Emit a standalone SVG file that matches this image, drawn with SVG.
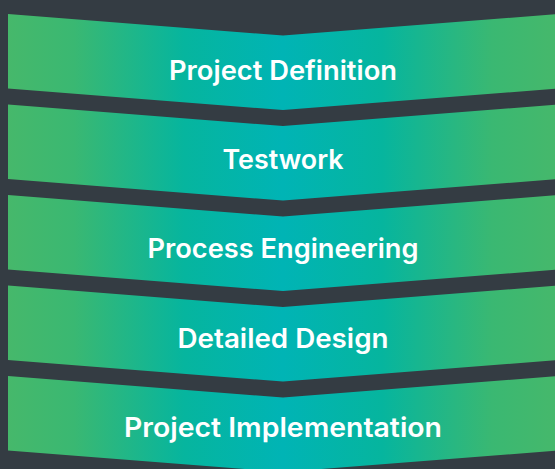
<svg xmlns="http://www.w3.org/2000/svg" width="555" height="469" viewBox="0 0 555 469">
  <defs>
    <linearGradient id="band" x1="8" y1="0" x2="558" y2="0" gradientUnits="userSpaceOnUse">
      <stop offset="0" stop-color="#46b86b"/>
      <stop offset="0.12" stop-color="#3ab872"/>
      <stop offset="0.32" stop-color="#06b59e"/>
      <stop offset="0.5" stop-color="#00b4b5"/>
      <stop offset="0.68" stop-color="#06b59e"/>
      <stop offset="0.88" stop-color="#3ab872"/>
      <stop offset="1" stop-color="#46b86b"/>
    </linearGradient>
    <style>
      .band { fill: url(#band); }
      .label { font-family: Inter, "Open Sans", sans-serif; font-weight: 600; font-size: 27px; fill: #ffffff; text-anchor: middle; }
    </style>
  </defs>
  <rect x="0" y="0" width="555" height="469" fill="#343c43"/>
  <g id="connectors"></g>
  <g id="step1">
    <path class="band" d="M8,14 L283,35.5 L558,14 L558,88.5 L283,110 L8,88.5 Z"/>
    <text class="label" x="283" y="80" textLength="228" lengthAdjust="spacingAndGlyphs">Project Definition</text>
  </g>
  <g id="step2">
    <path class="band" d="M8,104.5 L283,126 L558,104.5 L558,179 L283,200.5 L8,179 Z"/>
    <text class="label" x="283" y="169" textLength="121" lengthAdjust="spacingAndGlyphs">Testwork</text>
  </g>
  <g id="step3">
    <path class="band" d="M8,195 L283,216.5 L558,195 L558,269.5 L283,291 L8,269.5 Z"/>
    <text class="label" x="283" y="258" textLength="271" lengthAdjust="spacingAndGlyphs">Process Engineering</text>
  </g>
  <g id="step4">
    <path class="band" d="M8,285.5 L283,307 L558,285.5 L558,360 L283,381.5 L8,360 Z"/>
    <text class="label" x="283" y="348" textLength="211" lengthAdjust="spacingAndGlyphs">Detailed Design</text>
  </g>
  <g id="step5">
    <path class="band" d="M8,376 L283,397.5 L558,376 L558,450.5 L283,472 L8,450.5 Z"/>
    <text class="label" x="283" y="437" textLength="318" lengthAdjust="spacingAndGlyphs">Project Implementation</text>
  </g>
</svg>
